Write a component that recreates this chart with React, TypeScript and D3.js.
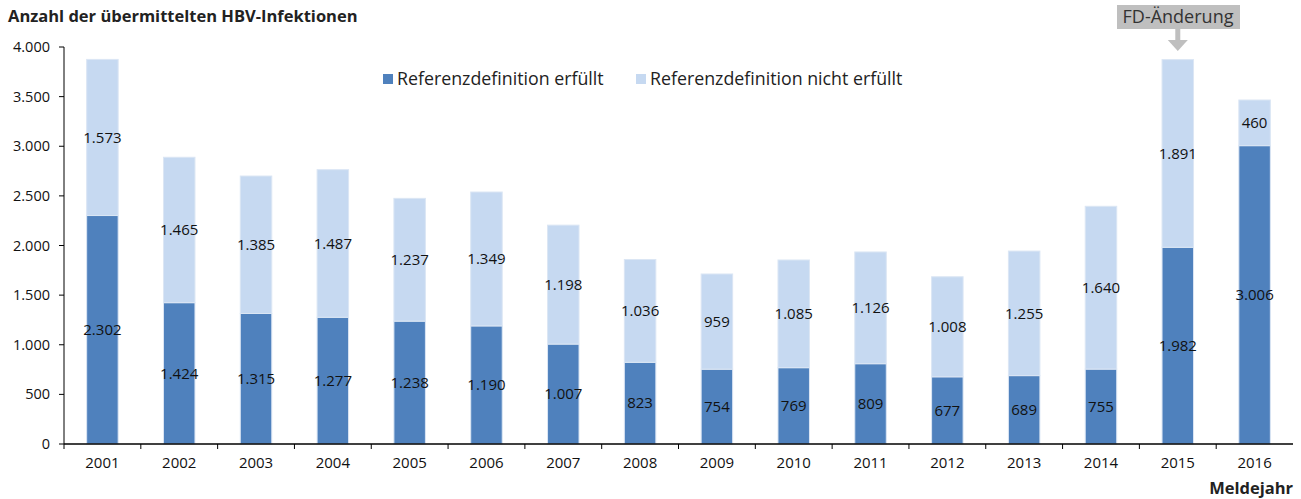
import React from 'react';
import * as d3 from 'd3';

// Meldejahre
const years = ['2001', '2002', '2003', '2004', '2005', '2006', '2007', '2008', '2009', '2010', '2011', '2012', '2013', '2014', '2015', '2016'];
// Referenzdefinition erfüllt
const erfuellt = [2302, 1424, 1315, 1277, 1238, 1190, 1007, 823, 754, 769, 809, 677, 689, 755, 1982, 3006];
// Referenzdefinition nicht erfüllt
const nichtErfuellt = [1573, 1465, 1385, 1487, 1237, 1349, 1198, 1036, 959, 1085, 1126, 1008, 1255, 1640, 1891, 460];
const yTicks = [0, 500, 1000, 1500, 2000, 2500, 3000, 3500, 4000];
const seriesNames = ['Referenzdefinition erfüllt', 'Referenzdefinition nicht erfüllt'];

const W = 1301;
const H = 499;
const FONT = "'Open Sans', 'Noto Sans', sans-serif";
const DARK = '#4f81bd';
const LIGHT = '#c6d9f1';

const fmt = (v: number) => d3.format(',')(v).replace(/,/g, '.');

export default function App() {
  const left = 64;
  const right = 1293;
  const x = d3.scaleBand().domain(years).range([left, right]).paddingInner(0).paddingOuter(0);
  const y = d3.scaleLinear().domain([0, 4000]).range([444, 47]);
  const barW = x.bandwidth() * 0.41;

  const rows = years.map((yr, i) => ({ yr, a: erfuellt[i], b: nichtErfuellt[i] }));
  const stack = d3.stack<{ yr: string; a: number; b: number }>().keys(['a', 'b'])(rows);
  const colors = [DARK, LIGHT];

  const fdX = (x('2015') ?? 0) + x.bandwidth() / 2;

  return (
    <svg width={W} height={H} style={{ position: 'absolute', left: 0, top: 0, background: '#fff' }}>
      <text x={8} y={22} fontFamily={FONT} fontWeight={700} fontSize={16.5} fill="#222">
        Anzahl der übermittelten HBV-Infektionen
      </text>

      {/* bars */}
      {stack.map((layer, li) => (
        <g key={li}>
          {layer.map((d, i) => (
            <rect
              key={i}
              x={(x(years[i]) ?? 0) + (x.bandwidth() - barW) / 2}
              y={y(d[1])}
              width={barW}
              height={y(d[0]) - y(d[1])}
              fill={colors[li]}
              stroke="#dbe6f4"
              strokeWidth={1}
            />
          ))}
        </g>
      ))}

      {/* value labels */}
      {stack.map((layer, li) => (
        <g key={'l' + li}>
          {layer.map((d, i) => (
            <text
              key={i}
              x={(x(years[i]) ?? 0) + x.bandwidth() / 2}
              y={y((d[0] + d[1]) / 2)}
              dy="0.35em"
              textAnchor="middle"
              fontFamily={FONT}
              fontSize={15}
              fill="#111"
            >
              {fmt(d[1] - d[0])}
            </text>
          ))}
        </g>
      ))}

      {/* y axis */}
      <line x1={left} x2={left} y1={y(4000)} y2={y(0)} stroke="#000" />
      {yTicks.map((t) => (
        <g key={t}>
          <line x1={left - 5} x2={left} y1={y(t)} y2={y(t)} stroke="#000" />
          <text x={50} y={y(t)} dy="0.35em" textAnchor="end" fontFamily={FONT} fontSize={14.5} fill="#111">
            {fmt(t)}
          </text>
        </g>
      ))}

      {/* x axis */}
      <line x1={left} x2={right} y1={y(0)} y2={y(0)} stroke="#000" strokeWidth={1.5} />
      {years.map((yr) => (
        <g key={yr}>
          <line x1={x(yr)} x2={x(yr)} y1={y(0)} y2={y(0) + 5} stroke="#000" />
          <text x={(x(yr) ?? 0) + x.bandwidth() / 2} y={468} textAnchor="middle" fontFamily={FONT} fontSize={15} fill="#111">
            {yr}
          </text>
        </g>
      ))}
      <text x={right} y={494} textAnchor="end" fontFamily={FONT} fontWeight={700} fontSize={16.5} fill="#222">
        Meldejahr
      </text>

      {/* legend */}
      <rect x={383} y={74} width={10} height={10} fill={DARK} />
      <text x={397} y={79} dy="0.35em" fontFamily={FONT} fontSize={17.8} fill="#222">{seriesNames[0]}</text>
      <rect x={636} y={74} width={10} height={10} fill={LIGHT} />
      <text x={650} y={79} dy="0.35em" fontFamily={FONT} fontSize={17.8} fill="#222">{seriesNames[1]}</text>

      {/* FD-Änderung */}
      <rect x={1117} y={5} width={123} height={24} fill="#bfbfbf" />
      <text x={1178} y={17} dy="0.35em" textAnchor="middle" fontFamily={FONT} fontSize={18} fill="#333">
        FD-Änderung
      </text>
      <rect x={fdX - 2.5} y={29} width={5} height={12} fill="#bfbfbf" />
      <path d={`M${fdX - 10},40 L${fdX + 10},40 L${fdX},51 Z`} fill="#bfbfbf" />
    </svg>
  );
}
